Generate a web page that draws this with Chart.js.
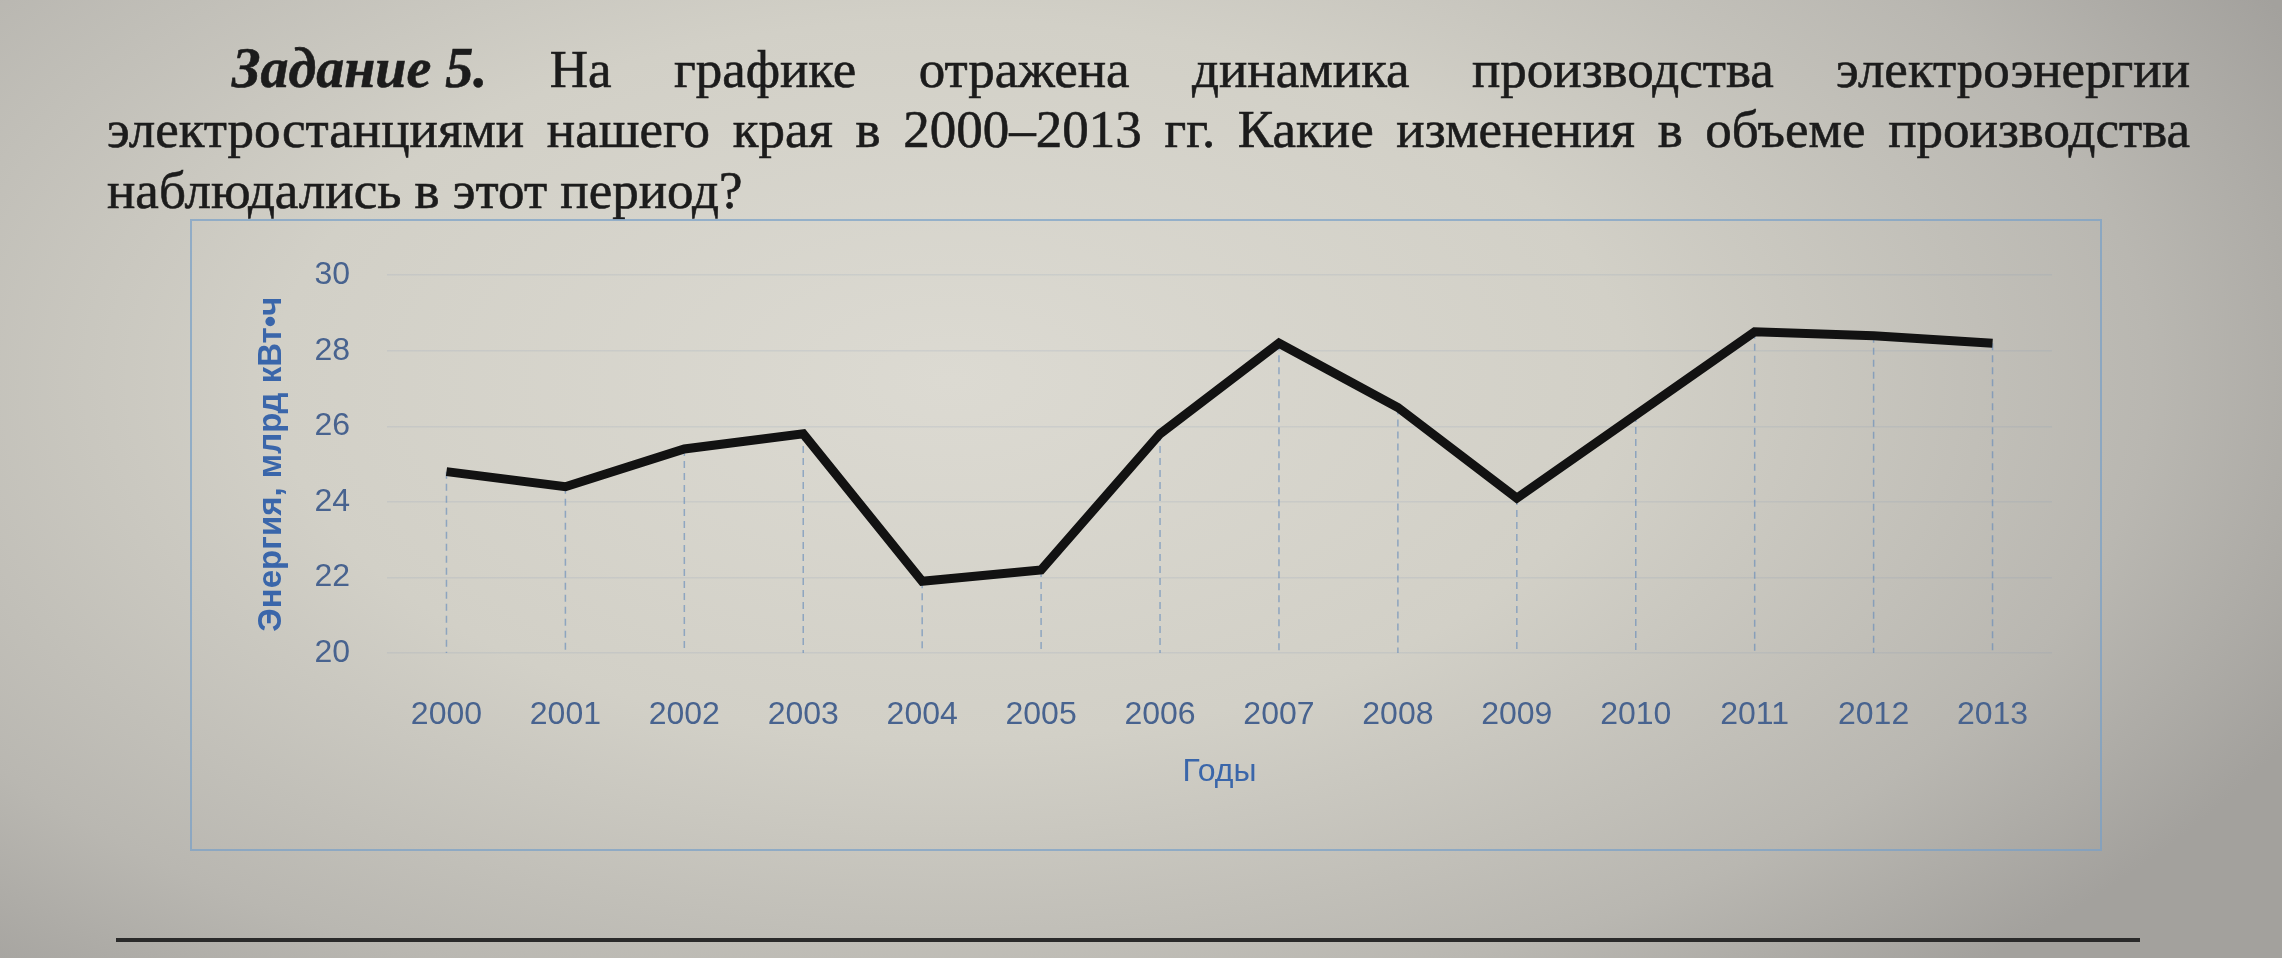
<!DOCTYPE html>
<html>
<head>
<meta charset="utf-8">
<script src="https://cdn.jsdelivr.net/npm/chart.js@4"></script>
<style>
  html, body {
    margin: 0;
    width: 2282px;
    height: 958px;
    overflow: hidden;
  }
  body {
    position: relative;
    background: radial-gradient(ellipse 1500px 800px at 950px 380px, #dcdad2 0%, #d2d0c7 45%, #b9b7b1 80%, #a3a19d 100%);
    font-family: "Liberation Serif", "DejaVu Serif", serif;
    color: #1c1c1c;
  }
  .ln {
    position: absolute;
    left: 107px;
    width: 2083px;
    box-sizing: border-box;
    font-size: 53px;
    line-height: 61px;
    -webkit-text-stroke: 0.6px #1c1c1c;
    text-align: justify;
    text-align-last: justify;
  }
  .ln.last {
    text-align-last: left;
  }
  .task {
    display: inline-block;
    font-weight: bold;
    font-style: italic;
    font-size: 56px;
  }
  .frame {
    position: absolute;
    left: 190px;
    top: 219px;
    width: 1912px;
    height: 632px;
    box-sizing: border-box;
    border: 2px solid rgba(120, 160, 200, 0.7);
  }
  .frame canvas {
    position: absolute;
    left: -2px;
    top: -2px;
  }
  .rule {
    position: absolute;
    left: 116px;
    top: 938px;
    width: 2024px;
    height: 4px;
    background: #2a2a2a;
  }
</style>
</head>
<body>
  <div class="ln" style="top:38px; padding-left:125px;"><span class="task">Задание 5.</span> На графике отражена динамика производства электроэнергии</div>
  <div class="ln" style="top:99px;">электростанциями нашего края в 2000–2013 гг. Какие изменения в объеме производства</div>
  <div class="ln last" style="top:160px;">наблюдались в этот период?</div>

  <div class="frame">
    <canvas id="chart" width="1910" height="630"></canvas>
  </div>
  <div class="rule"></div>

<script>
const years = [`2000`, `2001`, `2002`, `2003`, `2004`, `2005`, `2006`, `2007`, `2008`, `2009`, `2010`, `2011`, `2012`, `2013`];
const energy = [24.8, 24.4, 25.4, 25.8, 21.9, 22.2, 25.8, 28.2, 26.5, 24.1, 26.3, 28.5, 28.4, 28.2];
const yMin = 20;
const yMax = 30;
const yStep = 2;

const axisBlue = `#48638f`;
const titleBlue = `#3a66aa`;

// Excel-style drop lines from every point down to the category axis
const dropLines = {
  id: `dropLines`,
  beforeDatasetsDraw(chart) {
    const {ctx, chartArea} = chart;
    const meta = chart.getDatasetMeta(0);
    ctx.save();
    ctx.strokeStyle = `rgba(95, 135, 185, 0.6)`;
    ctx.lineWidth = 1.5;
    ctx.setLineDash([7, 5]);
    meta.data.forEach((point) => {
      ctx.beginPath();
      ctx.moveTo(point.x, point.y);
      ctx.lineTo(point.x, chartArea.bottom);
      ctx.stroke();
    });
    ctx.restore();
  }
};

new Chart(document.getElementById(`chart`), {
  type: `line`,
  plugins: [dropLines],
  data: {
    labels: years,
    datasets: [{
      data: energy,
      borderColor: `#121212`,
      borderWidth: 9,
      borderJoinStyle: `miter`,
      borderCapStyle: `butt`,
      pointRadius: 0,
      tension: 0,
      fill: false
    }]
  },
  options: {
    responsive: false,
    animation: false,
    events: [],
    layout: {
      padding: {left: 0, top: 51, right: 48, bottom: 58}
    },
    plugins: {
      legend: {display: false},
      tooltip: {enabled: false}
    },
    scales: {
      x: {
        offset: true,
        afterFit: (scale) => {
          scale.height = 138;
        },
        grid: {display: false, drawTicks: false},
        border: {display: false},
        ticks: {
          color: axisBlue,
          padding: 43,
          maxRotation: 0,
          font: {family: `"Liberation Sans", Arial, sans-serif`, size: 32}
        },
        title: {
          display: true,
          text: `Годы`,
          color: titleBlue,
          padding: {top: 0, bottom: 0},
          font: {family: `"Liberation Sans", Arial, sans-serif`, size: 32}
        }
      },
      y: {
        min: yMin,
        max: yMax,
        afterFit: (scale) => {
          scale.width = 197;
        },
        grid: {color: `rgba(130, 150, 180, 0.15)`, lineWidth: 1.5, drawTicks: false},
        border: {display: false},
        ticks: {
          stepSize: yStep,
          color: axisBlue,
          padding: 37,
          font: {family: `"Liberation Sans", Arial, sans-serif`, size: 32}
        },
        title: {
          display: true,
          text: `Энергия, млрд кВт•ч`,
          color: titleBlue,
          padding: {top: 62, bottom: 0},
          font: {family: `"Liberation Sans", Arial, sans-serif`, size: 33, weight: `bold`}
        }
      }
    }
  }
});
</script>
</body>
</html>
